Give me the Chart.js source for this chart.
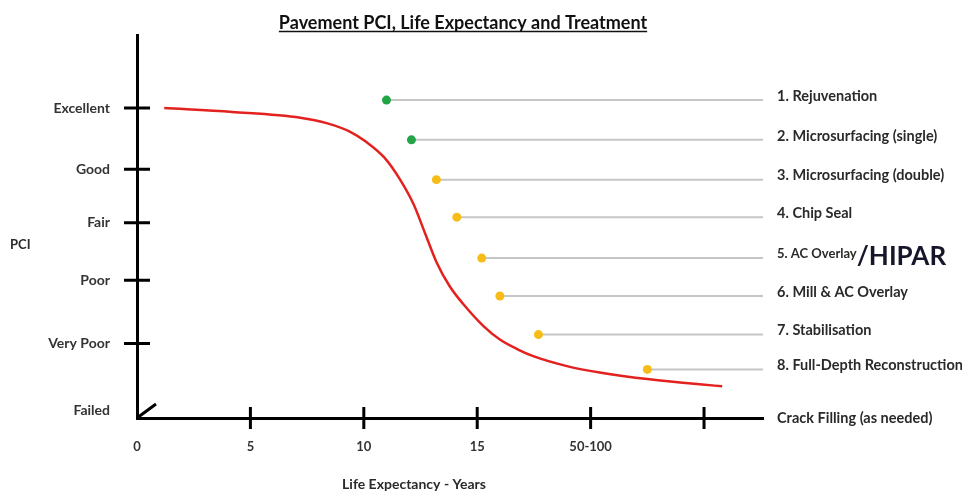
<!DOCTYPE html>
<html>
<head>
    <title>Pavement PCI, Life Expectancy and Treatment</title>
    <script src="https://cdn.jsdelivr.net/npm/chart.js"></script>
    <style>
        body {
            margin: 0;
            background: #ffffff;
        }
        .chart-box {
            width: 962px;
            height: 492px;
        }
    </style>
</head>
<body>
    <div class="chart-box">
        <canvas id="pciChart"></canvas>
    </div>

    <script>
        // Axis ticks
        const yTickValues = [2, 19.5, 36, 51, 65, 81];
        const yTickLabels = ['Failed', 'Very Poor', 'Poor', 'Fair', 'Good', 'Excellent'];
        const xTickValues = [0, 5, 10, 15, 20, 25];
        const xTickLabels = ['0', '5', '10', '15', '50-100', ''];
        const X_MAX = 27.6;

        // Deterioration curve (years, PCI)
        const curveYears = [1.2, 4.2, 7.2, 8.4, 9.4, 10.1, 10.9, 11.6, 12.2, 12.7, 13.2, 13.8, 14.6, 15.3, 16.0, 16.8, 17.5, 19.0, 20.4, 22.6, 24.8, 25.8];
        const curvePCI = [81, 80, 78.5, 77.0, 74.8, 72.2, 68.1, 62.3, 55.8, 48.3, 40.8, 34.3, 28.3, 23.9, 20.5, 17.9, 16.1, 13.5, 11.9, 10.1, 8.8, 8.3];

        // Treatments
        const treatments = ['1. Rejuvenation', '2. Microsurfacing (single)', '3. Microsurfacing (double)', '4. Chip Seal',
            '5. AC Overlay', '6. Mill & AC Overlay', '7. Stabilisation', '8. Full-Depth Reconstruction'];
        const treatmentYears = [11.0, 12.1, 13.2, 14.1, 15.2, 16.0, 17.7, 22.5];
        const treatmentPCI = [83.1, 72.7, 62.3, 52.5, 41.8, 31.9, 21.8, 12.7];
        const treatmentType = ['preventive', 'preventive', 'rehab', 'rehab', 'rehab', 'rehab', 'rehab', 'rehab'];
        const baseTreatment = 'Crack Filling (as needed)';
        const hiparSuffix = '/HIPAR';

        const typeColors = { preventive: '#22a447', rehab: '#f7bd16' };
        const labelFont = 'bold 14.5px Lato, sans-serif';

        const treatmentSets = treatments.map((name, i) => ({
            label: name,
            data: [{ x: treatmentYears[i], y: treatmentPCI[i] }, { x: X_MAX, y: treatmentPCI[i] }],
            borderColor: '#c6c6c6',
            borderWidth: 2,
            pointRadius: [4.5, 0],
            pointBackgroundColor: typeColors[treatmentType[i]],
            pointBorderWidth: 0,
            order: 1
        }));

        // Axis crosses, corner slash, side labels
        const decorations = {
            id: 'decorations',
            afterDraw(chart) {
                const { ctx, chartArea: area, scales: { x, y } } = chart;
                ctx.save();
                ctx.strokeStyle = '#000';
                ctx.lineWidth = 3;
                ctx.beginPath();
                yTickValues.forEach((v, i) => {
                    if (i === 0) return;
                    const py = y.getPixelForValue(v);
                    ctx.moveTo(area.left - 13, py);
                    ctx.lineTo(area.left + 13, py);
                });
                xTickValues.forEach((v, i) => {
                    if (i === 0) return;
                    const px = x.getPixelForValue(v);
                    ctx.moveTo(px, area.bottom - 11);
                    ctx.lineTo(px, area.bottom + 11);
                });
                ctx.moveTo(area.left, area.bottom);
                ctx.lineTo(area.left + 19, area.bottom - 14);
                ctx.stroke();

                // treatment labels
                ctx.textAlign = 'left';
                ctx.textBaseline = 'middle';
                const lx = area.right + 14;
                treatments.forEach((name, i) => {
                    const py = y.getPixelForValue(treatmentPCI[i]) - 4;
                    ctx.font = i === 4 ? 'bold 13px Lato, sans-serif' : labelFont;
                    ctx.fillStyle = '#2a2a2a';
                    ctx.fillText(name, lx, py);
                    if (i === 4) {
                        const w = ctx.measureText(name).width;
                        ctx.font = 'bold 26px Lato, sans-serif';
                        ctx.fillStyle = '#16162a';
                        ctx.fillText(hiparSuffix, lx + w, py + 3);
                    }
                });
                ctx.font = labelFont;
                ctx.fillStyle = '#2a2a2a';
                ctx.fillText(baseTreatment, lx, y.getPixelForValue(0));

                // axis titles
                ctx.font = 'bold 13px Lato, sans-serif';
                ctx.fillText('PCI', 10, 245);
                ctx.font = 'bold 14px Lato, sans-serif';
                ctx.textAlign = 'center';
                ctx.fillText('Life Expectancy - Years', 414, 484);

                // title underline
                const t = chart.titleBlock;
                ctx.font = 'bold 18px Lato, sans-serif';
                const tw = ctx.measureText(chart.options.plugins.title.text).width;
                const cx = (t.left + t.right) / 2;
                ctx.strokeStyle = '#111';
                ctx.lineWidth = 1.3;
                ctx.beginPath();
                ctx.moveTo(cx - tw / 2, 31.5);
                ctx.lineTo(cx + tw / 2, 31.5);
                ctx.stroke();
                ctx.restore();
            }
        };

        new Chart(document.getElementById('pciChart'), {
            type: 'line',
            data: {
                datasets: [
                    {
                        label: 'PCI',
                        data: curveYears.map((yr, i) => ({ x: yr, y: curvePCI[i] })),
                        borderColor: '#e3211f',
                        borderWidth: 2.5,
                        pointRadius: 0,
                        cubicInterpolationMode: 'monotone',
                        order: 5
                    },
                    ...treatmentSets
                ]
            },
            options: {
                responsive: true,
                maintainAspectRatio: false,
                animation: false,
                layout: { padding: { left: 0, right: 36, top: 0, bottom: 0 } },
                plugins: {
                    legend: { display: false },
                    tooltip: { enabled: false },
                    title: {
                        display: true,
                        text: 'Pavement PCI, Life Expectancy and Treatment',
                        color: '#111',
                        font: { family: 'Lato', size: 18, weight: 'bold' },
                        padding: { top: 10, bottom: 1.4 }
                    }
                },
                scales: {
                    x: {
                        type: 'linear',
                        min: 0,
                        max: X_MAX,
                        afterBuildTicks: s => { s.ticks = xTickValues.map(v => ({ value: v })); },
                        afterFit: s => { s.height = 74; },
                        grid: { display: false, drawTicks: false },
                        border: { display: true, color: '#000', width: 3 },
                        ticks: {
                            padding: 21,
                            color: '#333',
                            font: { family: 'Lato', size: 13, weight: 'bold' },
                            callback: (v, i) => xTickLabels[i]
                        }
                    },
                    y: {
                        type: 'linear',
                        min: 0,
                        max: 100,
                        afterBuildTicks: s => { s.ticks = yTickValues.map(v => ({ value: v })); },
                        afterFit: s => { s.width = 137; },
                        grid: { display: false, drawTicks: false },
                        border: { display: true, color: '#000', width: 3 },
                        ticks: {
                            padding: 27,
                            color: '#333',
                            font: { family: 'Lato', size: 14, weight: 'bold' },
                            callback: (v, i) => yTickLabels[i]
                        }
                    },
                    spacer: {
                        type: 'linear',
                        position: 'right',
                        display: true,
                        afterFit: s => { s.width = 163; },
                        grid: { display: false, drawTicks: false },
                        border: { display: false },
                        ticks: { display: false }
                    }
                }
            },
            plugins: [decorations]
        });
    </script>
</body>
</html>
